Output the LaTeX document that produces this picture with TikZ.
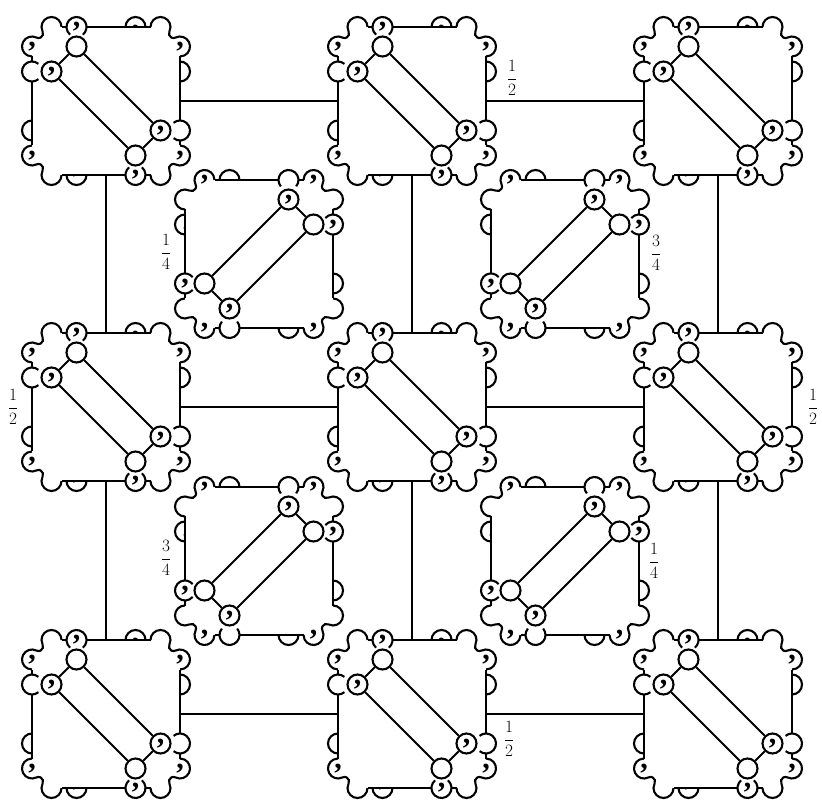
\documentclass[tikz,border=0pt]{standalone}
\usepackage[no-math]{fontspec}
\newfontfamily\commaface{Liberation Serif}
\tikzset{
  every picture/.style={x=1pt,y=1pt,line width=2.1pt,line cap=butt},
  cellbox/.style={rectangle,minimum size=148pt,inner sep=0pt,draw=none},
  ringnode/.style={circle,draw,line width=2.1pt,minimum size=20pt,inner sep=0pt,font=\commafont},
  commanode/.style={inner sep=0pt,font=\commafont},
  linklabel/.style={inner sep=0pt,font=\fontsize{16}{19}\selectfont},
  tie/.style={line width=2.2pt}
}
\newcommand\commafont{\commaface\bfseries\fontsize{30}{30}\selectfont}
\newcommand\cornerbump[2]{%
  \begin{scope}[xscale=#1,yscale=#2]
    \draw (-44.5,74) arc[start angle=0,end angle=207,radius=10]
          arc[start angle=27,end angle=-117,radius=4.5]
          arc[start angle=63,end angle=270,radius=10];
  \end{scope}}
\newcommand\cellat[4]{%
  \node[cellbox] (#1) at (#2,#3) {};
  \begin{scope}[shift={(#2,#3)},rotate=#4]
    \cornerbump{1}{1}\cornerbump{-1}{1}\cornerbump{1}{-1}\cornerbump{-1}{-1}
    % top
    \draw (-44.5,74) -- (-39.5,74);
    \draw (-29.5,74) ++(230:10) arc[start angle=230,end angle=-50,radius=10];
    \draw (-19.5,74) -- (44.5,74);
    \draw (19.5,74) arc[start angle=180,end angle=0,radius=10];
    % bottom
    \draw (44.5,-74) -- (39.5,-74);
    \draw (29.5,-74) ++(50:10) arc[start angle=50,end angle=-230,radius=10];
    \draw (19.5,-74) -- (-44.5,-74);
    \draw (-39.5,-74) arc[start angle=180,end angle=360,radius=10];
    % left
    \draw (-74,44.5) -- (-74,39.5);
    \draw (-74,29.5) ++(50:10) arc[start angle=50,end angle=310,radius=10];
    \draw (-74,19.5) -- (-74,-44.5);
    \draw (-74,-19.5) arc[start angle=90,end angle=270,radius=10];
    % right
    \draw (74,-44.5) -- (74,-39.5);
    \draw (74,-29.5) ++(-130:10) arc[start angle=-130,end angle=130,radius=10];
    \draw (74,-19.5) -- (74,44.5);
    \draw (74,39.5) arc[start angle=90,end angle=-90,radius=10];
    % commas on the rim
    \node[commanode] (#1t) at (-29.5,74) {,};
    \node[commanode] (#1b) at (29.5,-74) {,};
    \node[commanode] (#1l) at (-74,54.5) {,};
    \node[commanode] (#1m) at (-74,-54.5) {,};
    \node[commanode] (#1r) at (74,54.5) {,};
    \node[commanode] (#1s) at (74,-54.5) {,};
    \begin{scope}
      \clip (19.5,75) rectangle (39.5,84);
      \node[commanode] (#1u) at (29.5,71) {,};
    \end{scope}
    \begin{scope}
      \clip (-39.5,-75) rectangle (-19.5,-84);
      \node[commanode] (#1v) at (-29.5,-72) {,};
    \end{scope}
    % inner ring of four
    \node[ringnode] (#1A) at (-29.5,54.5) {};
    \node[ringnode] (#1B) at (-54.5,29.5) {,};
    \node[ringnode] (#1C) at (54.5,-29.5) {,};
    \node[ringnode] (#1D) at (29.5,-54.5) {};
    \draw (#1A) -- (#1B);
    \draw (#1C) -- (#1D);
    \draw (#1A) -- (#1C);
    \draw (#1B) -- (#1D);
  \end{scope}}
\begin{document}
\begin{tikzpicture}
\useasboundingbox (0,0) rectangle (822,804);
\cellat{aa}{106}{703}{0}
\cellat{ab}{412}{703}{0}
\cellat{ac}{718}{703}{0}
\cellat{ba}{106}{397}{0}
\cellat{bb}{412}{397}{0}
\cellat{bc}{718}{397}{0}
\cellat{ca}{106}{90}{0}
\cellat{cb}{412}{90}{0}
\cellat{cc}{718}{90}{0}
\cellat{pa}{259}{550}{-90}
\cellat{pb}{565}{550}{-90}
\cellat{qa}{259}{243}{-90}
\cellat{qb}{565}{243}{-90}
\foreach \u/\v in {aa/ab,ab/ac,ba/bb,bb/bc,ca/cb,cb/cc}{\draw[tie] (\u.east) -- (\v.west);}
\foreach \u/\v in {aa/ba,ab/bb,ac/bc,ba/ca,bb/cb,bc/cc}{\draw[tie] (\u.south) -- (\v.north);}
\node[linklabel] (l1) at (512,726) {$\displaystyle\frac12$};
\node[linklabel] (l2) at (166,552) {$\displaystyle\frac14$};
\node[linklabel] (l3) at (656,551) {$\displaystyle\frac34$};
\node[linklabel] (l4) at (13,397) {$\displaystyle\frac12$};
\node[linklabel] (l5) at (813,397) {$\displaystyle\frac12$};
\node[linklabel] (l6) at (166,246) {$\displaystyle\frac34$};
\node[linklabel] (l7) at (654,243) {$\displaystyle\frac14$};
\node[linklabel] (l8) at (509,65) {$\displaystyle\frac12$};
\end{tikzpicture}
\end{document}
